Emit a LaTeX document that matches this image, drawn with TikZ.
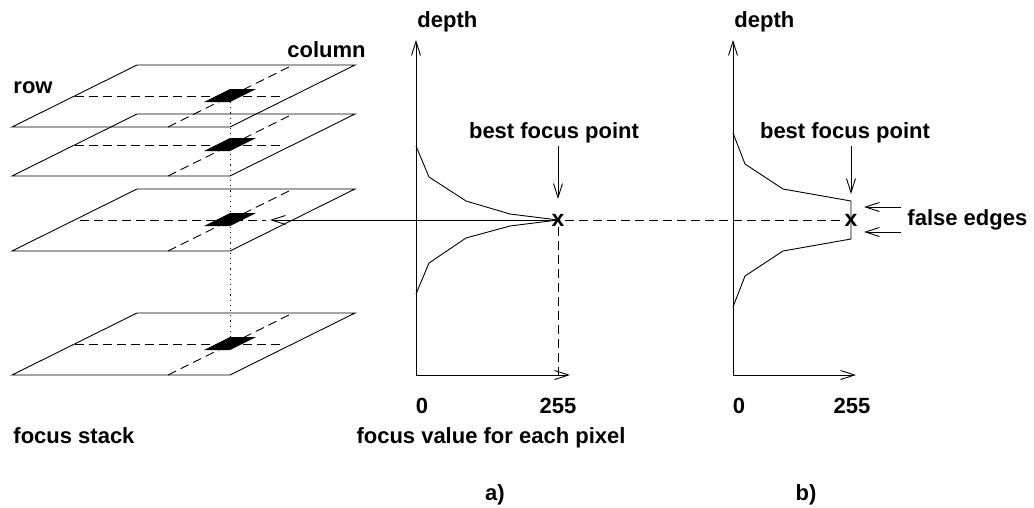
\documentclass[tikz,border=0pt]{standalone}
\usepackage{fontspec}
\setmainfont{Liberation Sans}
\usetikzlibrary{arrows.meta}
\begin{document}
\begin{tikzpicture}[x=1pt,y=-1pt,line width=0.9pt,
  lbl/.style={font=\fontsize{22}{26}\selectfont\bfseries, inner sep=0pt, anchor=base},
  lblw/.style={lbl, anchor=base west},
  xmark/.style={font=\fontsize{23}{26}\selectfont\bfseries, inner sep=0.5pt},
  arr/.style={-{Straight Barb[length=14pt,width=9pt,line width=0.9pt]}},
  dsh/.style={dash pattern=on 9pt off 5pt},
  dtt/.style={dash pattern=on 1.2pt off 4pt}]
\useasboundingbox (0,0) rectangle (1034,507);

% focus stack planes
\foreach \b in {127,176,251,375}{
  \draw (12,\b) -- (230,\b) -- (355,\b-62) -- (137,\b-62) -- cycle;
  \draw[dsh] (168,\b) -- (293,\b-62);
  \fill (204,\b-25) -- (230,\b-25) -- (256,\b-38) -- (230,\b-38) -- cycle;
}
\foreach \b in {127,176,375}{
  \draw[dsh] (75,\b-31) -- (285,\b-31);
}
\draw[dsh] (80,220) -- (266,220);
\coordinate (p3) at (270,220);
\coordinate (pt1) at (230,102);
\coordinate (pt4) at (230,338);
\draw[dtt] (pt1) -- (pt4);

\node[lblw] (row) at (13,93) {row};
\node[lblw] (col) at (287,57) {column};
\node[lblw] (fs) at (13,443) {focus stack};

% graph a
\coordinate (oa) at (416,375);
\coordinate (ta) at (416,40);
\coordinate (ra) at (570,375);
\draw[arr] (oa) -- (ta);
\draw[arr] (oa) -- (ra);
\node[lblw] (da) at (417,27) {depth};
\node[xmark] (XA) at (558,220) {x};
\draw (416,146) -- (429,177) -- (466,201) -- (510,214) -- (XA.center)
      -- (510,226) -- (466,238) -- (429,263) -- (416,294);
\draw[arr] (XA.west) -- (p3);
\coordinate (xaBot) at (558,375);
\draw[dsh] (XA.south) -- (xaBot);
\node[lbl] (bfa) at (554,138) {best focus point};
\coordinate (bfaS) at (558,146);
\coordinate (bfaE) at (558,199);
\draw[arr] (bfaS) -- (bfaE);
\node[lbl] (za) at (422,413) {0};
\node[lbl] (ma) at (558,413) {255};
\node[lbl] (fv) at (491,443) {focus value for each pixel};
\node[lbl] (la) at (495,500) {a)};

% graph b
\coordinate (ob) at (733,375);
\coordinate (tb) at (733,40);
\coordinate (rb) at (856,375);
\draw[arr] (ob) -- (tb);
\draw[arr] (ob) -- (rb);
\node[lblw] (db) at (734,27) {depth};
\node[xmark] (XB) at (851,220) {x};
\draw (733,133) -- (745,164) -- (783,189) -- (851,201) -- (851,239)
      -- (783,251) -- (745,276) -- (733,307);
\draw[dsh] (XA.east) -- (XB.west);
\node[lbl] (bfb) at (845,138) {best focus point};
\coordinate (bfbS) at (851,146);
\coordinate (bfbE) at (851,194);
\draw[arr] (bfbS) -- (bfbE);
\node[lblw] (fe) at (907,225) {false edges};
\coordinate (fe1s) at (901,207);
\coordinate (fe1e) at (864,207);
\coordinate (fe2s) at (901,232);
\coordinate (fe2e) at (864,232);
\draw[arr] (fe1s) -- (fe1e);
\draw[arr] (fe2s) -- (fe2e);
\node[lbl] (zb) at (739,413) {0};
\node[lbl] (mb) at (852,413) {255};
\node[lbl] (lb) at (806,500) {b)};
\end{tikzpicture}
\end{document}
